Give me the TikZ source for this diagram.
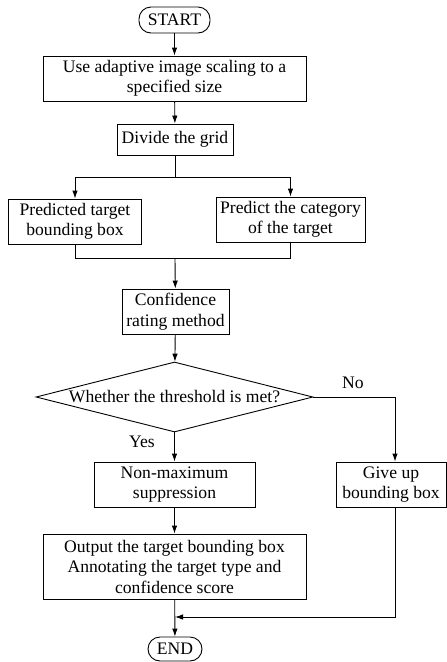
\documentclass[tikz,border=0pt]{standalone}
\usepackage{fontspec}
\setmainfont{Liberation Serif}
\usetikzlibrary{shapes.geometric,arrows.meta}
\newcommand{\diagfont}{\fontsize{17.6}{20.5}\selectfont}
\begin{document}
\begin{tikzpicture}[x=1pt,y=-1pt,
  every node/.style={font=\diagfont},
  box/.style={draw,line width=0.9pt,inner sep=0pt,align=center},
  term/.style={box,rounded corners=12pt},
  arr/.style={line width=0.9pt,-{Latex[length=8pt,width=5.5pt]}},
  ln/.style={line width=0.9pt}]
\useasboundingbox (0,0) rectangle (447,662);
\node[term,minimum width=71pt,minimum height=26pt] (start) at (174.5,20) {START};
\node[box,minimum width=263pt,minimum height=45pt] (b1) at (174.5,78.5) {Use adaptive image scaling to a\\specified size};
\node[box,minimum width=116pt,minimum height=31pt] (grid) at (175,139.5) {Divide the grid};
\node[box,minimum width=133pt,minimum height=45pt] (left) at (75,221.5) {Predicted target\\bounding box};
\node[box,minimum width=149pt,minimum height=45pt] (right) at (290.5,219.5) {Predict the category\\of the target};
\node[box,minimum width=107pt,minimum height=45pt] (conf) at (175.5,311.5) {Confidence\\rating method};
\node[draw,line width=0.9pt,diamond,inner sep=0pt,minimum width=277pt,minimum height=70pt] (dec) at (174.5,397) {};
\node (dectext) at (dec.center) {Whether the threshold is met?};
\node[box,minimum width=161pt,minimum height=45pt] (nms) at (174.5,484.5) {Non-maximum\\suppression};
\node[box,minimum width=110pt,minimum height=45pt] (giveup) at (391,484.5) {Give up\\bounding box};
\node[box,minimum width=263pt,minimum height=65pt] (out) at (174.5,566.5) {Output the target bounding box\\Annotating the target type and\\confidence score};
\node[term,minimum width=54pt,minimum height=24pt] (end) at (175,649) {END};
\node (yes) at (142,442) {Yes};
\node (no) at (353,383) {No};
\coordinate (split) at (175,177);
\coordinate (merge) at (175,258);
\coordinate (nocorner) at (395,397);
\coordinate (join) at (175,617);
\draw[arr] (start) -- (b1);
\draw[arr] (b1) -- (grid);
\draw[ln] (grid) -- (split);
\draw[arr] (split) -| (left);
\draw[arr] (split) -| (right);
\draw[ln] (left) |- (merge);
\draw[ln] (right) |- (merge);
\draw[arr] (merge) -- (conf);
\draw[arr] (conf) -- (dec);
\draw[arr] (dec) -- (nms);
\draw[arr] (nms) -- (out);
\draw[ln] (dec.east) -- (nocorner);
\draw[arr] (nocorner) -- (nocorner |- giveup.north);
\draw[arr] (nocorner |- giveup.south) |- (join);
\draw[arr] (out) -- (end);
\end{tikzpicture}
\end{document}
